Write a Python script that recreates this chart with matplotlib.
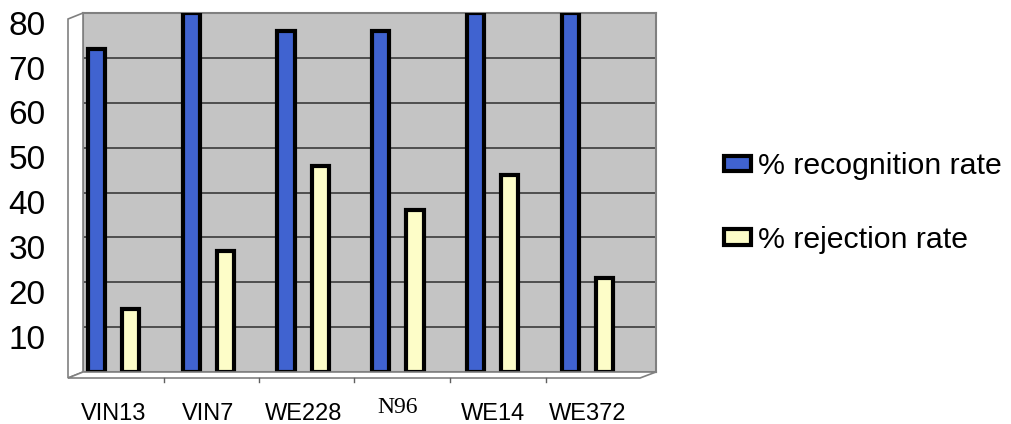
import numpy as np
import matplotlib.pyplot as plt
from matplotlib.patches import Polygon
from matplotlib.transforms import ScaledTranslation

# data
samples = ['VIN13', 'VIN7', 'WE228', 'N96', 'WE14', 'WE372']
recognition = [72, 80, 76, 76, 80, 80]
rejection = [14, 27, 46, 36, 44, 21]
yticks = [10, 20, 30, 40, 50, 60, 70, 80]

W, H = 1012, 424
fig = plt.figure(figsize=(W / 100, H / 100), dpi=100)
plt.rcParams['font.family'] = ['Liberation Sans', 'DejaVu Sans']


def px(x, y):
    return (x / W, 1 - y / H)


# fake 3d side wall and floor
side = Polygon([px(68, 378), px(83, 372), px(83, 13), px(68, 19)], closed=True,
               transform=fig.transFigure, facecolor='white', edgecolor='#808080', lw=1.2)
floor = Polygon([px(68, 378), px(83, 372), px(656, 372), px(640, 378)], closed=True,
                transform=fig.transFigure, facecolor='white', edgecolor='#808080', lw=1.2)
fig.patches.extend([side, floor])

ax = fig.add_axes([83 / W, 1 - 372 / H, (656 - 83) / W, (372 - 13) / H])
ax.set_facecolor('#c4c4c4')
for s in ax.spines.values():
    s.set_color('#808080')
    s.set_linewidth(1.5)

x = np.arange(len(samples))
w = 0.18
ax.bar(x - w, recognition, w, color='#4063d0', edgecolor='black', lw=3,
       label='% recognition rate', zorder=3)
ax.bar(x + w, rejection, w, color='#fdfdc8', edgecolor='black', lw=3,
       label='% rejection rate', zorder=3)

ax.set_xlim(-0.32, 5.72)
ax.set_ylim(0, 80)
ax.set_yticks(yticks)
ax.yaxis.grid(True, color='#3a3a3a', lw=1.2, zorder=1)
ax.tick_params(axis='y', length=0, pad=27, labelsize=24)
for lab in ax.get_yticklabels():
    lab.set_transform(lab.get_transform() + ScaledTranslation(0, -7 / 72, fig.dpi_scale_trans))

ax.set_xticks(x)
ax.set_xticklabels(samples)
ax.tick_params(axis='x', length=0, pad=22, labelsize=17)
for lab in ax.get_xticklabels():
    if lab.get_text() == 'N96':
        lab.set_family('Liberation Serif')
        lab.set_transform(lab.get_transform() + ScaledTranslation(0, 4 / 72, fig.dpi_scale_trans))

# small tick marks on the floor front edge
for i in range(1, len(samples)):
    xx = 68 + i * 95.5
    fig.add_artist(plt.Line2D([xx / W, xx / W], [1 - 378 / H, 1 - 382 / H],
                              color='#606060', lw=1, transform=fig.transFigure))

leg = fig.legend(loc='center left', bbox_to_anchor=(px(697, 203)), frameon=False,
                 fontsize=21.8, handlelength=0.9, handleheight=0.4, labelspacing=1.5,
                 handletextpad=0.22)

plt.savefig('out.png', dpi=100)
